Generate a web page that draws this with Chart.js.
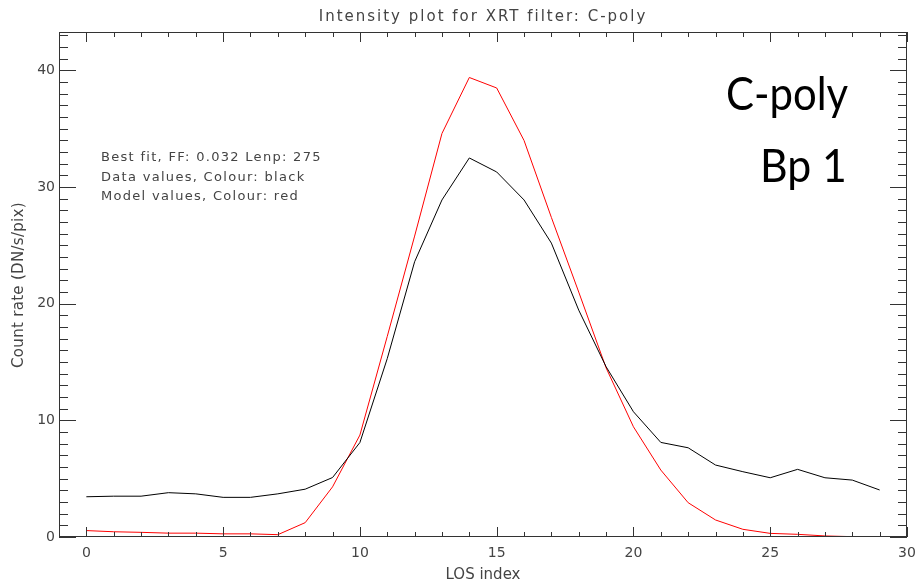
<!DOCTYPE html>
<html>
<head>
<meta charset="utf-8">
<script src="https://cdn.jsdelivr.net/npm/chart.js@4.4.1/dist/chart.umd.min.js"></script>
<style>
  html, body { margin: 0; padding: 0; background: #fff; }
  canvas { display: block; }
</style>
</head>
<body>
<canvas id="myChart" width="916" height="583"></canvas>
<script>
// LOS index along the x axis
const losIndex = [0, 1, 2, 3, 4, 5, 6, 7, 8, 9, 10, 11, 12, 13, 14, 15, 16, 17, 18, 19, 20, 21, 22, 23, 24, 25, 26, 27, 28, 29];

// data values (black)
const dataValues = [3.45, 3.5, 3.5, 3.8, 3.7, 3.4, 3.4, 3.7, 4.1, 5.1, 8.1, 15.3, 23.6, 28.9, 32.5, 31.3, 28.9, 25.2, 19.45, 14.6, 10.74, 8.11, 7.65, 6.17, 5.6, 5.08, 5.8, 5.08, 4.88, 4.03];

// model values (red)
const modelValues = [0.55, 0.45, 0.4, 0.33, 0.33, 0.27, 0.27, 0.2, 1.23, 4.3, 8.74, 17.2, 25.8, 34.6, 39.4, 38.5, 34.0, 27.4, 21.0, 14.5, 9.45, 5.74, 2.94, 1.46, 0.66, 0.31, 0.23, 0.09, 0.03, 0.0];

// tick labels
const xTicks = [0, 5, 10, 15, 20, 25, 30];
const yTicks = [0, 10, 20, 30, 40];

const titleText = "Intensity plot for XRT filter: C-poly";
const xTitle = "LOS index";
const yTitle = "Count rate (DN/s/pix)";
const notes = ["Best fit, FF: 0.032 Lenp: 275", "Data values, Colour: black", "Model values, Colour: red"];
const bigLabels = ["C-poly", "Bp 1"];

const idlFont = '"DejaVu Sans", sans-serif';
const textColor = "#444";

// frame, inward ticks and all the free text
const idlPlot = {
  id: "idlPlot",
  afterDraw(chart) {
    const c = chart.ctx;
    const a = chart.chartArea;
    const xs = chart.scales.x;
    const ys = chart.scales.y;
    c.save();
    c.strokeStyle = "#333";
    c.lineWidth = 1;
    c.strokeRect(a.left + 0.5, a.top + 0.5, a.right - a.left - 1, a.bottom - a.top - 1);

    c.beginPath();
    for (let v = 0; v <= 30; v++) {
      const px = Math.round(xs.getPixelForValue(v)) + 0.5;
      const len = v % 5 === 0 ? 10 : 5;
      c.moveTo(px, a.bottom);
      c.lineTo(px, a.bottom - len);
      c.moveTo(px, a.top);
      c.lineTo(px, a.top + len);
    }
    for (let v = 0; v <= 43; v++) {
      const py = Math.round(ys.getPixelForValue(v)) + 0.5;
      const len = v % 10 === 0 ? 17 : 9;
      c.moveTo(a.left, py);
      c.lineTo(a.left + len, py);
      c.moveTo(a.right, py);
      c.lineTo(a.right - len, py);
    }
    c.stroke();

    c.fillStyle = textColor;
    c.textBaseline = "middle";
    c.textAlign = "center";
    c.font = "15px " + idlFont;
    c.letterSpacing = "2px";
    c.fillText(titleText, (a.left + a.right) / 2, 17);
    c.letterSpacing = "0px";
    c.fillText(xTitle, (a.left + a.right) / 2, 575);

    c.save();
    c.translate(19, 285);
    c.rotate(-Math.PI / 2);
    c.letterSpacing = "0.3px";
    c.fillText(yTitle, 0, 0);
    c.restore();

    c.textAlign = "left";
    c.font = "13px " + idlFont;
    c.letterSpacing = "1.3px";
    notes.forEach((t, i) => c.fillText(t, 101, 158 + i * 19.5));
    c.letterSpacing = "0px";

    c.fillStyle = "#000";
    c.textBaseline = "alphabetic";
    c.font = '46px Lato, "Open Sans", sans-serif';
    c.save();
    c.translate(726, 110);
    c.scale(0.91, 1);
    c.fillText(bigLabels[0], 0, 0);
    c.restore();
    c.save();
    c.translate(760, 182);
    c.scale(0.93, 1);
    c.fillText(bigLabels[1], 0, 0);
    c.restore();
    c.restore();
  },
};

const chart = new Chart(document.getElementById("myChart"), {
  type: "line",
  data: {
    datasets: [
      {
        label: "Data values",
        data: losIndex.map((x, i) => ({ x: x, y: dataValues[i] })),
        borderColor: "#000",
        borderWidth: 1,
        pointRadius: 0,
        tension: 0,
      },
      {
        label: "Model values",
        data: losIndex.map((x, i) => ({ x: x, y: modelValues[i] })),
        borderColor: "#ff0000",
        borderWidth: 1,
        pointRadius: 0,
        tension: 0,
      },
    ],
  },
  options: {
    responsive: false,
    animation: false,
    devicePixelRatio: 1,
    layout: { padding: { top: 32, right: 9, left: 0, bottom: 0 } },
    plugins: {
      legend: { display: false },
      title: { display: false },
      tooltip: { enabled: false },
    },
    scales: {
      x: {
        type: "linear",
        min: -1,
        max: 30,
        grid: { display: false, drawTicks: false },
        border: { display: false },
        ticks: { color: textColor, font: { family: idlFont, size: 14 }, padding: 8, maxRotation: 0 },
        afterBuildTicks: (s) => { s.ticks = xTicks.map((v) => ({ value: v })); },
        afterFit: (s) => { s.height = 46; s.paddingLeft = 0; s.paddingRight = 0; },
      },
      y: {
        min: 0,
        max: 43.3,
        grid: { display: false, drawTicks: false },
        border: { display: false },
        ticks: { color: textColor, font: { family: idlFont, size: 14 }, padding: 4 },
        afterBuildTicks: (s) => { s.ticks = yTicks.map((v) => ({ value: v })); },
        afterFit: (s) => { s.width = 59; s.paddingTop = 0; s.paddingBottom = 0; },
      },
    },
  },
  plugins: [idlPlot],
});
</script>
</body>
</html>
